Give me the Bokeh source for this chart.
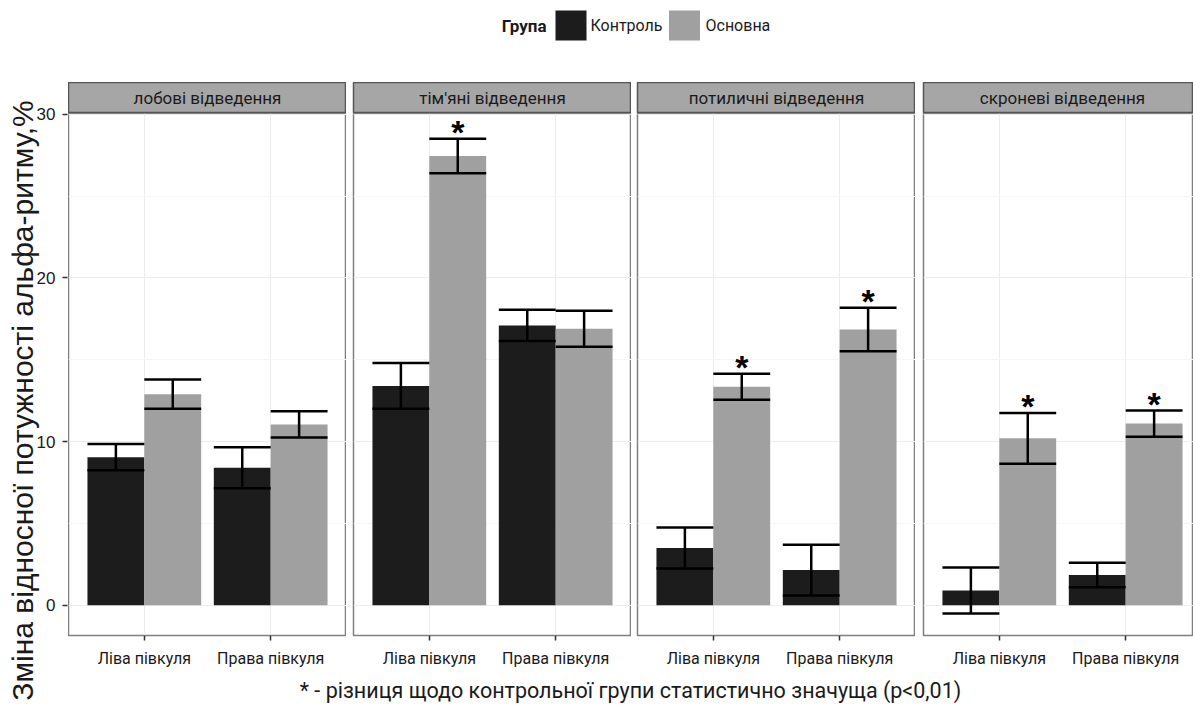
from bokeh.plotting import figure
from bokeh.layouts import row, column
from bokeh.models import Range1d, FixedTicker, ColumnDataSource, Grid
from bokeh.core.properties import value
from bokeh.embed import file_html
from bokeh.resources import INLINE

# ---------------- data ----------------
panels = ["лобові відведення", "тім'яні відведення", "потиличні відведення", "скроневі відведення"]
sides = ["Ліва півкуля", "Права півкуля"]
groups = ["Контроль", "Основна"]
control_mean = [[9.05, 8.4], [13.4, 17.1], [3.5, 2.15], [0.9, 1.85]]
control_se = [[0.8, 1.25], [1.4, 0.95], [1.25, 1.55], [1.4, 0.75]]
main_mean = [[12.9, 11.05], [27.45, 16.9], [13.35, 16.85], [10.2, 11.1]]
main_se = [[0.9, 0.8], [1.05, 1.1], [0.8, 1.33], [1.55, 0.8]]
main_significant = [[False, False], [True, False], [True, True], [True, True]]
y_ticks = [0, 10, 20, 30]
y_minor = [5, 15, 25]
y_label = "Зміна відносної потужності альфа-ритму,%"
caption = "* - різниця щодо контрольної групи статистично значуща (р<0,01)"
legend_title = "Група"
group_colors = ["#1c1c1c", "#a0a0a0"]

# ---------------- styling / layout ----------------
NARROW = "Roboto"
REG = "Liberation Sans"
TOTAL_W = 1193
YAX_W = 68
LEG_H = 82
STRIP_H = 31
FRAME_W = 278
FRAME_H = 522
BOTTOM = 40
CAP_H = 28
YAX_EXTRA = 52
left_gaps = [0, 7, 6, 8]
BAR_W = 0.45
x_lo, x_hi = 1 - 0.6, len(sides) + 0.6
px_per_unit = FRAME_W / (x_hi - x_lo)
y_lo, y_hi = -1.85, 30.05
units_per_px = (y_hi - y_lo) / FRAME_H
last_w = TOTAL_W - YAX_W - sum(left_gaps) - 3 * FRAME_W


def bare(fw, fh, xr, yr, **kw):
    f = figure(frame_width=fw, frame_height=fh, x_range=xr, y_range=yr,
               x_axis_location=None, y_axis_location=None,
               toolbar_location=None, output_backend="svg", min_border=0,
               outline_line_color=None, background_fill_color="white",
               border_fill_color="white", **kw)
    f.grid.visible = False
    return f


def style_axis(ax):
    ax.axis_line_color = None
    ax.major_tick_out = 5
    ax.major_tick_in = 0
    ax.minor_tick_out = 0
    ax.minor_tick_in = 0
    ax.major_tick_line_color = "#333333"
    ax.major_tick_line_width = 1.5


cols = []
for k, pname in enumerate(panels):
    fw = FRAME_W if k < 3 else last_w
    xr = Range1d(x_lo, x_lo + fw / px_per_unit)
    yr = Range1d(y_lo, y_hi)

    # strip
    s = bare(fw, STRIP_H, xr, Range1d(0, 1), min_border_left=left_gaps[k])
    s.background_fill_color = "#a6a6a6"
    s.outline_line_color = "#555555"
    s.outline_line_width = 1.5
    s.text(x=[(1 + len(sides)) / 2], y=[0.5], text=[pname], text_align="center",
           text_baseline="middle", text_font=value(NARROW), text_font_size="17px",
           text_color="#1a1a1a")

    # data panel
    p = figure(frame_width=fw, frame_height=FRAME_H, x_range=xr, y_range=yr,
               y_axis_location=None,
               toolbar_location=None, output_backend="svg", min_border=0,
               min_border_left=left_gaps[k], min_border_bottom=BOTTOM,
               background_fill_color="white", border_fill_color="white",
               outline_line_color="#7f7f7f", outline_line_width=1.5)
    p.center = [r for r in p.center if not isinstance(r, Grid)]
    p.add_layout(Grid(dimension=0, ticker=FixedTicker(ticks=[i + 1 for i in range(len(sides))]),
                      grid_line_color="#ededed", grid_line_width=1))
    p.add_layout(Grid(dimension=1, ticker=FixedTicker(ticks=y_ticks, minor_ticks=y_minor),
                      grid_line_color="#ededed", grid_line_width=1,
                      minor_grid_line_color="#f6f6f6", minor_grid_line_width=1))

    p.xaxis.ticker = FixedTicker(ticks=[i + 1 for i in range(len(sides))])
    p.xaxis.major_label_overrides = {i + 1: sd for i, sd in enumerate(sides)}
    for ax in p.xaxis:
        style_axis(ax)
    p.xaxis.major_label_text_font = NARROW
    p.xaxis.major_label_text_font_size = "16px"
    p.xaxis.major_label_text_color = "#1a1a1a"
    p.xaxis.major_label_standoff = 8

    xs, tops, los, his, cols_c, xl, xrr = [], [], [], [], [], [], []
    ax_, ay_ = [], []
    for i in range(len(sides)):
        for g, (mean, se) in enumerate([(control_mean, control_se), (main_mean, main_se)]):
            x = i + 1 + (g - 0.5) * BAR_W
            m = mean[k][i]
            e = se[k][i]
            xs.append(x); tops.append(m); los.append(m - e); his.append(m + e)
            xl.append(x - BAR_W / 2); xrr.append(x + BAR_W / 2)
            cols_c.append(group_colors[g])
            if g == 1 and main_significant[k][i]:
                ax_.append(x); ay_.append(m + e)
    src = ColumnDataSource(dict(x=xs, top=tops, lo=los, hi=his, color=cols_c, xl=xl, xr=xrr))
    p.vbar(x="x", top="top", bottom=0, width=BAR_W, fill_color="color", line_color=None, source=src)
    p.segment(x0="x", x1="x", y0="lo", y1="hi", line_color="black", line_width=2.5, source=src)
    p.segment(x0="xl", x1="xr", y0="hi", y1="hi", line_color="black", line_width=2.5, source=src)
    p.segment(x0="xl", x1="xr", y0="lo", y1="lo", line_color="black", line_width=2.5, source=src)
    if ax_:
        p.text(x=ax_, y=ay_, text=["*"] * len(ax_), text_align="center", text_baseline="middle",
               y_offset=-7, text_font=value(REG), text_font_style="bold",
               text_font_size="34px", text_color="black")

    cols.append(column(s, p, spacing=0))

panel_h = STRIP_H + FRAME_H + BOTTOM

# shared y axis (own narrow figure, frame extends lower so the title centres like the reference)
yax = figure(frame_width=1, frame_height=FRAME_H + YAX_EXTRA,
             x_range=Range1d(0, 1), y_range=Range1d(y_lo - YAX_EXTRA * units_per_px, y_hi),
             x_axis_location=None, y_axis_location="left", toolbar_location=None,
             output_backend="svg", min_border=0, min_border_left=YAX_W - 1,
             min_border_top=STRIP_H,
             min_border_bottom=panel_h + CAP_H - STRIP_H - FRAME_H - YAX_EXTRA,
             outline_line_color=None, background_fill_color="white", border_fill_color="white")
yax.grid.visible = False
style_axis(yax.yaxis[0])
yax.yaxis.ticker = FixedTicker(ticks=y_ticks)
yax.yaxis.major_label_text_font = REG
yax.yaxis.major_label_text_font_size = "17px"
yax.yaxis.major_label_text_color = "#1a1a1a"
yax.yaxis.major_label_standoff = 7
yax.yaxis.axis_label = y_label
yax.yaxis.axis_label_text_font = REG
yax.yaxis.axis_label_text_font_size = "30px"
yax.yaxis.axis_label_text_font_style = "normal"
yax.yaxis.axis_label_text_color = "#1a1a1a"
yax.yaxis.axis_label_standoff = -5

# caption
cw = TOTAL_W - YAX_W
cap = bare(cw, CAP_H, Range1d(0, cw), Range1d(0, CAP_H))
cap.text(x=[630 - YAX_W], y=[13], text=[caption], text_align="center",
         text_baseline="middle", text_font=value(NARROW), text_font_size="21.5px",
         text_color="#1a1a1a")

# legend
lg = bare(TOTAL_W, LEG_H, Range1d(0, TOTAL_W), Range1d(0, LEG_H))
leg_y = LEG_H - 25
lg.text(x=[546], y=[leg_y], text=[legend_title], text_align="right", text_baseline="middle",
        text_font=value(NARROW), text_font_style="bold", text_font_size="17px", text_color="#1a1a1a")
sw_x = [570.5, 684]
lab_x = [590, 705]
lg.rect(x=sw_x, y=[leg_y] * len(groups), width=31, height=30, fill_color=group_colors,
        line_color=None)
lg.text(x=lab_x, y=[leg_y] * len(groups), text=groups, text_align="left", text_baseline="middle",
        text_font=value(NARROW), text_font_size="16px", text_color="#1a1a1a")

layout = column(lg, row(yax, column(row(*cols, spacing=0), cap, spacing=0), spacing=0), spacing=0)

open("out.html", "w").write(file_html(layout, INLINE))
